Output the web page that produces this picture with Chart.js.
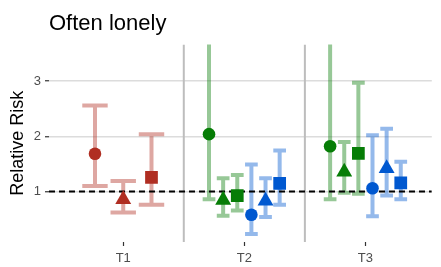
<!DOCTYPE html>
<html>
<head>
<meta charset="utf-8">
<script src="https://cdn.jsdelivr.net/npm/chart.js@4"></script>
<style>
  html, body { margin: 0; padding: 0; background: #fff; }
  #wrap { width: 441px; height: 267px; }
</style>
</head>
<body>
<div id="wrap"><canvas id="c" width="441" height="267"></canvas></div>
<script>
// ---- data ----
const categories = ['T1', 'T2', 'T3'];
const yTickValues = [1, 2, 3];
const yTickLabels = ['1', '2', '3'];
const refValue = 1;

// estimates and confidence limits, left to right within each category
const estT1 = [1.685, 0.858, 1.255];
const loT1  = [1.10, 0.62, 0.76];
const hiT1  = [2.56, 1.19, 2.04];

const estT2 = [2.04, 0.845, 0.925, 0.58, 0.83, 1.146];
const loT2  = [0.86, 0.56, 0.655, 0.23, 0.54, 0.76];
const hiT2  = [4.5, 1.24, 1.30, 1.49, 1.24, 1.745];

const estT3 = [1.82, 1.355, 1.69, 1.058, 1.42, 1.155];
const loT3  = [0.86, 0.98, 0.96, 0.55, 0.93, 0.86];
const hiT3  = [4.5, 1.90, 2.97, 2.02, 2.14, 1.54];

// ---- styles ----
const RED = 'rgb(176,46,34)', GREEN = 'rgb(6,125,6)', BLUE = 'rgb(0,88,208)';
const alpha = c => c.replace('rgb', 'rgba').replace(')', ',0.42)');
const shapes = ['circle', 'triangle', 'rect'];
const radii = { circle: 6.3, triangle: 9.2, rect: 9.0 };

const groups = [
  { est: estT1, lo: loT1, hi: hiT1, colors: [RED, RED, RED] },
  { est: estT2, lo: loT2, hi: hiT2, colors: [GREEN, GREEN, GREEN, BLUE, BLUE, BLUE] },
  { est: estT3, lo: loT3, hi: hiT3, colors: [GREEN, GREEN, GREEN, BLUE, BLUE, BLUE] }
];

// one dataset per colour/shape combination
const dsMap = {};
const datasets = [];
groups.forEach((g, ci) => {
  const n = g.est.length;
  const step = 0.7 / n;
  g.est.forEach((v, k) => {
    const color = g.colors[k];
    const shape = shapes[k % 3];
    const key = color + shape;
    if (!dsMap[key]) {
      dsMap[key] = {
        data: [], pointStyle: shape, pointRadius: radii[shape],
        pointBackgroundColor: color, pointBorderWidth: 0, borderWidth: 0,
        errColor: alpha(color), showLine: false
      };
      datasets.push(dsMap[key]);
    }
    dsMap[key].data.push({
      x: ci + 1 + (k - (n - 1) / 2) * step, y: v,
      lo: g.lo[k], hi: g.hi[k], cap: step * 0.9
    });
  });
});

const decor = {
  id: 'decor',
  beforeDatasetsDraw(chart) {
    const { ctx, chartArea: a, scales: { x, y } } = chart;
    ctx.save();
    ctx.beginPath();
    ctx.rect(a.left, a.top, a.right - a.left, a.bottom - a.top);
    ctx.clip();
    // category separators
    ctx.strokeStyle = '#bdbdbd';
    ctx.lineWidth = 2;
    [1.5, 2.5].forEach(v => {
      const px = x.getPixelForValue(v);
      ctx.beginPath(); ctx.moveTo(px, a.top); ctx.lineTo(px, a.bottom); ctx.stroke();
    });
    // error bars
    ctx.lineWidth = 4;
    ctx.lineCap = 'butt';
    chart.data.datasets.forEach(ds => {
      ds.data.forEach(p => {
        const px = x.getPixelForValue(p.x);
        const half = x.getPixelForValue(p.x + p.cap / 2) - px;
        const yl = y.getPixelForValue(p.lo), yh = y.getPixelForValue(p.hi);
        ctx.strokeStyle = ds.errColor;
        ctx.beginPath();
        ctx.moveTo(px, yl); ctx.lineTo(px, yh);
        ctx.moveTo(px - half, yl); ctx.lineTo(px + half, yl);
        ctx.moveTo(px - half, yh); ctx.lineTo(px + half, yh);
        ctx.stroke();
      });
    });
    // reference line
    const ry = y.getPixelForValue(refValue);
    ctx.strokeStyle = '#000';
    ctx.lineWidth = 2;
    ctx.setLineDash([6, 4]);
    ctx.beginPath(); ctx.moveTo(a.left, ry); ctx.lineTo(a.right, ry); ctx.stroke();
    ctx.restore();
  }
};

const FONT = "'Liberation Sans', Arial, Helvetica, sans-serif";

new Chart(document.getElementById('c'), {
  type: 'scatter',
  data: { datasets },
  plugins: [decor],
  options: {
    responsive: false,
    animation: false,
    events: [],
    layout: { padding: { left: 0, right: 0, top: 0, bottom: 0 } },
    plugins: {
      legend: { display: false },
      tooltip: { enabled: false },
      title: {
        display: true, text: 'Often lonely', align: 'start', fullSize: false,
        color: '#000', font: { family: FONT, size: 22, weight: 'normal' },
        padding: { top: 11, bottom: 7 }
      }
    },
    scales: {
      x: {
        type: 'linear', min: 0.387, max: 3.548,
        afterBuildTicks: s => { s.ticks = categories.map((c, i) => ({ value: i + 1 })); },
        afterFit: s => { s.height = 25; },
        ticks: {
          callback: v => categories[Math.round(v) - 1],
          color: '#4d4d4d', font: { family: FONT, size: 13 }, padding: 5,
          maxRotation: 0
        },
        grid: { drawOnChartArea: false, tickColor: '#333', tickLength: 4, tickWidth: 1.2 },
        border: { display: false }
      },
      y: {
        min: 0.085, max: 3.667,
        afterBuildTicks: s => { s.ticks = yTickValues.map(v => ({ value: v })); },
        afterFit: s => { s.width = 49; },
        ticks: {
          callback: v => yTickLabels[yTickValues.indexOf(v)],
          color: '#4d4d4d', font: { family: FONT, size: 13 }, padding: 4
        },
        grid: { color: '#dcdcdc', lineWidth: 1.5, tickColor: '#333', tickLength: 4, tickWidth: 1.2 },
        border: { display: false },
        title: {
          display: true, text: 'Relative Risk', color: '#000',
          font: { family: FONT, size: 18 }, padding: { top: 7, bottom: 0 }
        }
      }
    }
  }
});
</script>
</body>
</html>
